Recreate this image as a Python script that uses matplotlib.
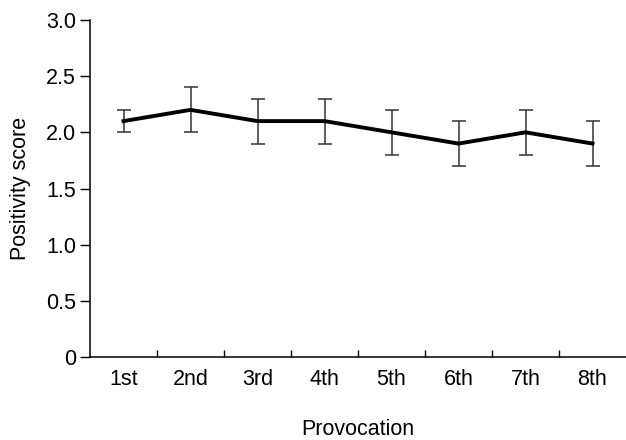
import matplotlib
matplotlib.use("Agg")
import matplotlib.pyplot as plt

plt.rcParams["font.family"] = ["Liberation Sans", "DejaVu Sans"]

provocations = ["1st", "2nd", "3rd", "4th", "5th", "6th", "7th", "8th"]
scores = [2.1, 2.2, 2.1, 2.1, 2.0, 1.9, 2.0, 1.9]
errors = [0.1, 0.2, 0.2, 0.2, 0.2, 0.2, 0.2, 0.2]
yticks = [0, 0.5, 1.0, 1.5, 2.0, 2.5, 3.0]
ytick_labels = ["0", "0.5", "1.0", "1.5", "2.0", "2.5", "3.0"]

FS = 15.5

fig = plt.figure(figsize=(6.26, 4.4), dpi=100)
ax = fig.add_axes([90 / 626, (440 - 357) / 440, (626 - 90) / 626, (357 - 20) / 440])

x = list(range(1, len(provocations) + 1))
ax.errorbar(x, scores, yerr=errors, color="black", linewidth=2.8,
            ecolor="#333333", elinewidth=1.1, capsize=5, capthick=1.1, zorder=3)

ax.set_xlim(0.5, 8.5)
ax.set_ylim(0, 3.0)
ax.set_xticks(x)
ax.set_xticklabels(provocations, fontsize=FS)
ax.set_xticks([i + 0.5 for i in x[:-1]], minor=True)
ax.tick_params(axis="x", which="major", length=0, pad=8.5)
ax.tick_params(axis="x", which="minor", direction="in", length=5, width=1)
ax.set_yticks(yticks)
ax.set_yticklabels(ytick_labels, fontsize=FS)
ax.tick_params(axis="y", direction="out", length=7, width=1, pad=3)

for s in ["top", "right"]:
    ax.spines[s].set_visible(False)
for s in ["left", "bottom"]:
    ax.spines[s].set_linewidth(1.1)

ax.set_xlabel("Provocation", fontsize=FS, labelpad=21)
ax.set_ylabel("Positivity score", fontsize=FS, labelpad=11)

fig.savefig("out.png", dpi=100)
